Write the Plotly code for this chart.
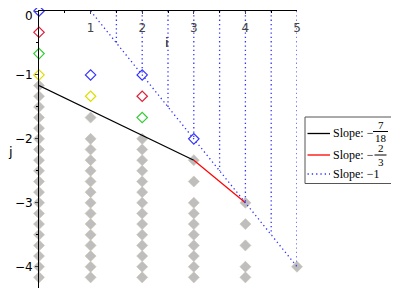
import plotly.graph_objects as go

# ---- data ----
# gray lattice points: j values in sixths, per i column
gray_i0_sixths = [-7, -8, -9, -10, -11, -12, -13, -14, -15, -16, -17, -18, -19, -20, -21, -22, -23, -24, -25, -26]
gray_i1_sixths = [-10, -12, -13, -14, -15, -16, -17, -18, -19, -20, -21, -22, -23, -24, -25, -26]
gray_i2_sixths = [-12, -13, -14, -15, -16, -17, -18, -19, -20, -21, -22, -23, -24, -25, -26]
gray_i3_sixths = [-14, -16, -18, -19, -20, -21, -22, -23, -24, -25, -26]
gray_i4_sixths = [-18, -20, -22, -24, -25, -26]
gray_i5_sixths = [-24, -26]

blue_i = [0, 1, 2, 3]
blue_j = [0, -1, -1, -2]
red_i = [0, 2]
red_j = [-1/3, -4/3]
green_i = [0, 2]
green_j = [-2/3, -5/3]
yellow_i = [0, 1]
yellow_j = [-1, -4/3]

black_i = [0, 3]
black_j = [-7/6, -7/3]
redline_i = [3, 4]
redline_j = [-7/3, -3]
slope1_i = [1, 5]
slope1_j = [0, -4]
vert_i = [1.5, 2, 2.5, 3, 3.5, 4, 4.5, 5]

x_ticks = [1, 2, 3, 4, 5]
y_ticks = [0, -1, -2, -3, -4]
y_ticktext = ["", "−1", "−2", "−3", "−4"]   # "0" drawn separately so it is not clipped
legend_prefix = ["Slope: −", "Slope: −", "Slope: −1"]
legend_num = ["7", "2", None]
legend_den = ["18", "3", None]

BLACK = "black"
RED = "#FF0000"
BLUE = "#3333FF"
DOT = "1.3px,3px"

# ---- build ----
gx, gy = [], []
for col, vals in enumerate([gray_i0_sixths, gray_i1_sixths, gray_i2_sixths,
                            gray_i3_sixths, gray_i4_sixths, gray_i5_sixths]):
    for v in vals:
        gx.append(col)
        gy.append(v / 6)

fig = go.Figure()
fig.add_trace(go.Scatter(x=gx, y=gy, mode="markers", showlegend=False, cliponaxis=False,
                         marker=dict(symbol="diamond", size=8.5, color="#BEBEBE",
                                     line=dict(color="#CFC5B0", width=0.6))))

vx, vy = [], []
for v in vert_i:
    vx += [v, v, None]
    vy += [0, 1 - v, None]

fig.add_trace(go.Scatter(x=black_i, y=black_j, mode="lines", showlegend=False,
                         line=dict(color=BLACK, width=1.2), cliponaxis=False))
fig.add_trace(go.Scatter(x=redline_i, y=redline_j, mode="lines", showlegend=False,
                         line=dict(color=RED, width=1.2), cliponaxis=False))
fig.add_trace(go.Scatter(x=slope1_i + [None] + vx, y=slope1_j + [None] + vy, mode="lines",
                         showlegend=False, connectgaps=False,
                         line=dict(color=BLUE, width=1.3, dash=DOT), cliponaxis=False))

for xs, ys, c in [(blue_i, blue_j, "#3333FF"), (red_i, red_j, "#E0203C"),
                  (green_i, green_j, "#33CC33"), (yellow_i, yellow_j, "#DDDD00")]:
    fig.add_trace(go.Scatter(x=xs, y=ys, mode="markers", showlegend=False, cliponaxis=False,
                             marker=dict(symbol="diamond-open", size=8,
                                         color=c, line=dict(color=c, width=1.2))))

# ---- layout (page body has an 8px margin, so figure is 391x292) ----
PL, PT, PW, PH = 31, 3, 258, 277   # plot area in figure pixels
OFF = 8


def px(xpix):   # screenshot pixel -> paper x
    return (xpix - OFF - PL) / PW


def py(ypix):   # screenshot pixel -> paper y
    return (PT + PH - (ypix - OFF)) / PH


SERIF = "Liberation Serif"
shapes = [dict(type="rect", xref="paper", yref="paper", x0=px(305), x1=px(398),
               y0=py(183.5), y1=py(117), line=dict(color="#555", width=1),
               fillcolor="white", layer="above")]
annotations = [
    dict(x=2.49, y=-0.5, xref="x", yref="y", text="i", showarrow=False, font=dict(size=13)),
    dict(x=px(6), y=py(151), xref="paper", yref="paper", text="j", showarrow=False,
         font=dict(size=13)),
    dict(x=px(34), y=py(8), xref="paper", yref="paper", xanchor="right", yanchor="top",
         text=str(y_ticks[0]), showarrow=False, borderpad=0, font=dict(size=12)),
]
line_y = [133.5, 155, 174]
bar_y = [131.5, 155]
entry_col = [BLACK, RED, BLUE]
entry_dash = ["solid", "solid", DOT]
bar_half = [7.5, 6]
for k in range(3):
    yy = line_y[k]
    shapes.append(dict(type="line", xref="paper", yref="paper", x0=px(307.5), x1=px(330),
                       y0=py(yy), y1=py(yy), layer="above",
                       line=dict(color=entry_col[k], width=1.3, dash=entry_dash[k])))
    annotations.append(dict(x=px(331.5), y=py(yy), xref="paper", yref="paper",
                            xanchor="left", yanchor="middle", text=legend_prefix[k],
                            showarrow=False, borderpad=0,
                            font=dict(family=SERIF, size=12, color="black")))
    if legend_num[k] is not None:
        cx = 380.5
        by = bar_y[k]
        annotations.append(dict(x=px(cx), y=py(by - 6.8), xref="paper", yref="paper",
                                xanchor="center", yanchor="middle", text=legend_num[k],
                                showarrow=False, borderpad=0,
                                font=dict(family=SERIF, size=11, color="black")))
        annotations.append(dict(x=px(cx), y=py(by + 6.8), xref="paper", yref="paper",
                                xanchor="center", yanchor="middle", text=legend_den[k],
                                showarrow=False, borderpad=0,
                                font=dict(family=SERIF, size=11, color="black")))
        shapes.append(dict(type="line", xref="paper", yref="paper",
                           x0=px(cx - bar_half[k]), x1=px(cx + bar_half[k]),
                           y0=py(by), y1=py(by), layer="above",
                           line=dict(color="black", width=1)))

fig.update_layout(
    width=391, height=292,
    margin=dict(l=PL, r=391 - PL - PW, t=PT, b=292 - PT - PH, autoexpand=False),
    paper_bgcolor="white", plot_bgcolor="white",
    font=dict(family="DejaVu Sans", size=12, color="black"),
    showlegend=False,
    xaxis=dict(range=[0, 5], side="top", tickvals=x_ticks, ticks="inside", ticklen=3,
               ticklabelposition="inside", ticklabeloverflow="allow", ticklabelstandoff=9,
               showline=True, linecolor="black", linewidth=1,
               showgrid=False, zeroline=False, automargin=False,
               minor=dict(dtick=0.5, ticks="inside", ticklen=2, tickcolor="black"),
               tickfont=dict(size=12)),
    yaxis=dict(range=[-4.333, 0], tickvals=y_ticks, ticktext=y_ticktext,
               ticks="outside", ticklen=3, ticklabeloverflow="allow",
               showline=True, linecolor="black", linewidth=1, showgrid=False, zeroline=False,
               automargin=False,
               minor=dict(dtick=0.5, ticks="outside", ticklen=2, tickcolor="black"),
               tickfont=dict(size=12)),
    shapes=shapes,
    annotations=annotations,
)

fig.write_html("out.html")
